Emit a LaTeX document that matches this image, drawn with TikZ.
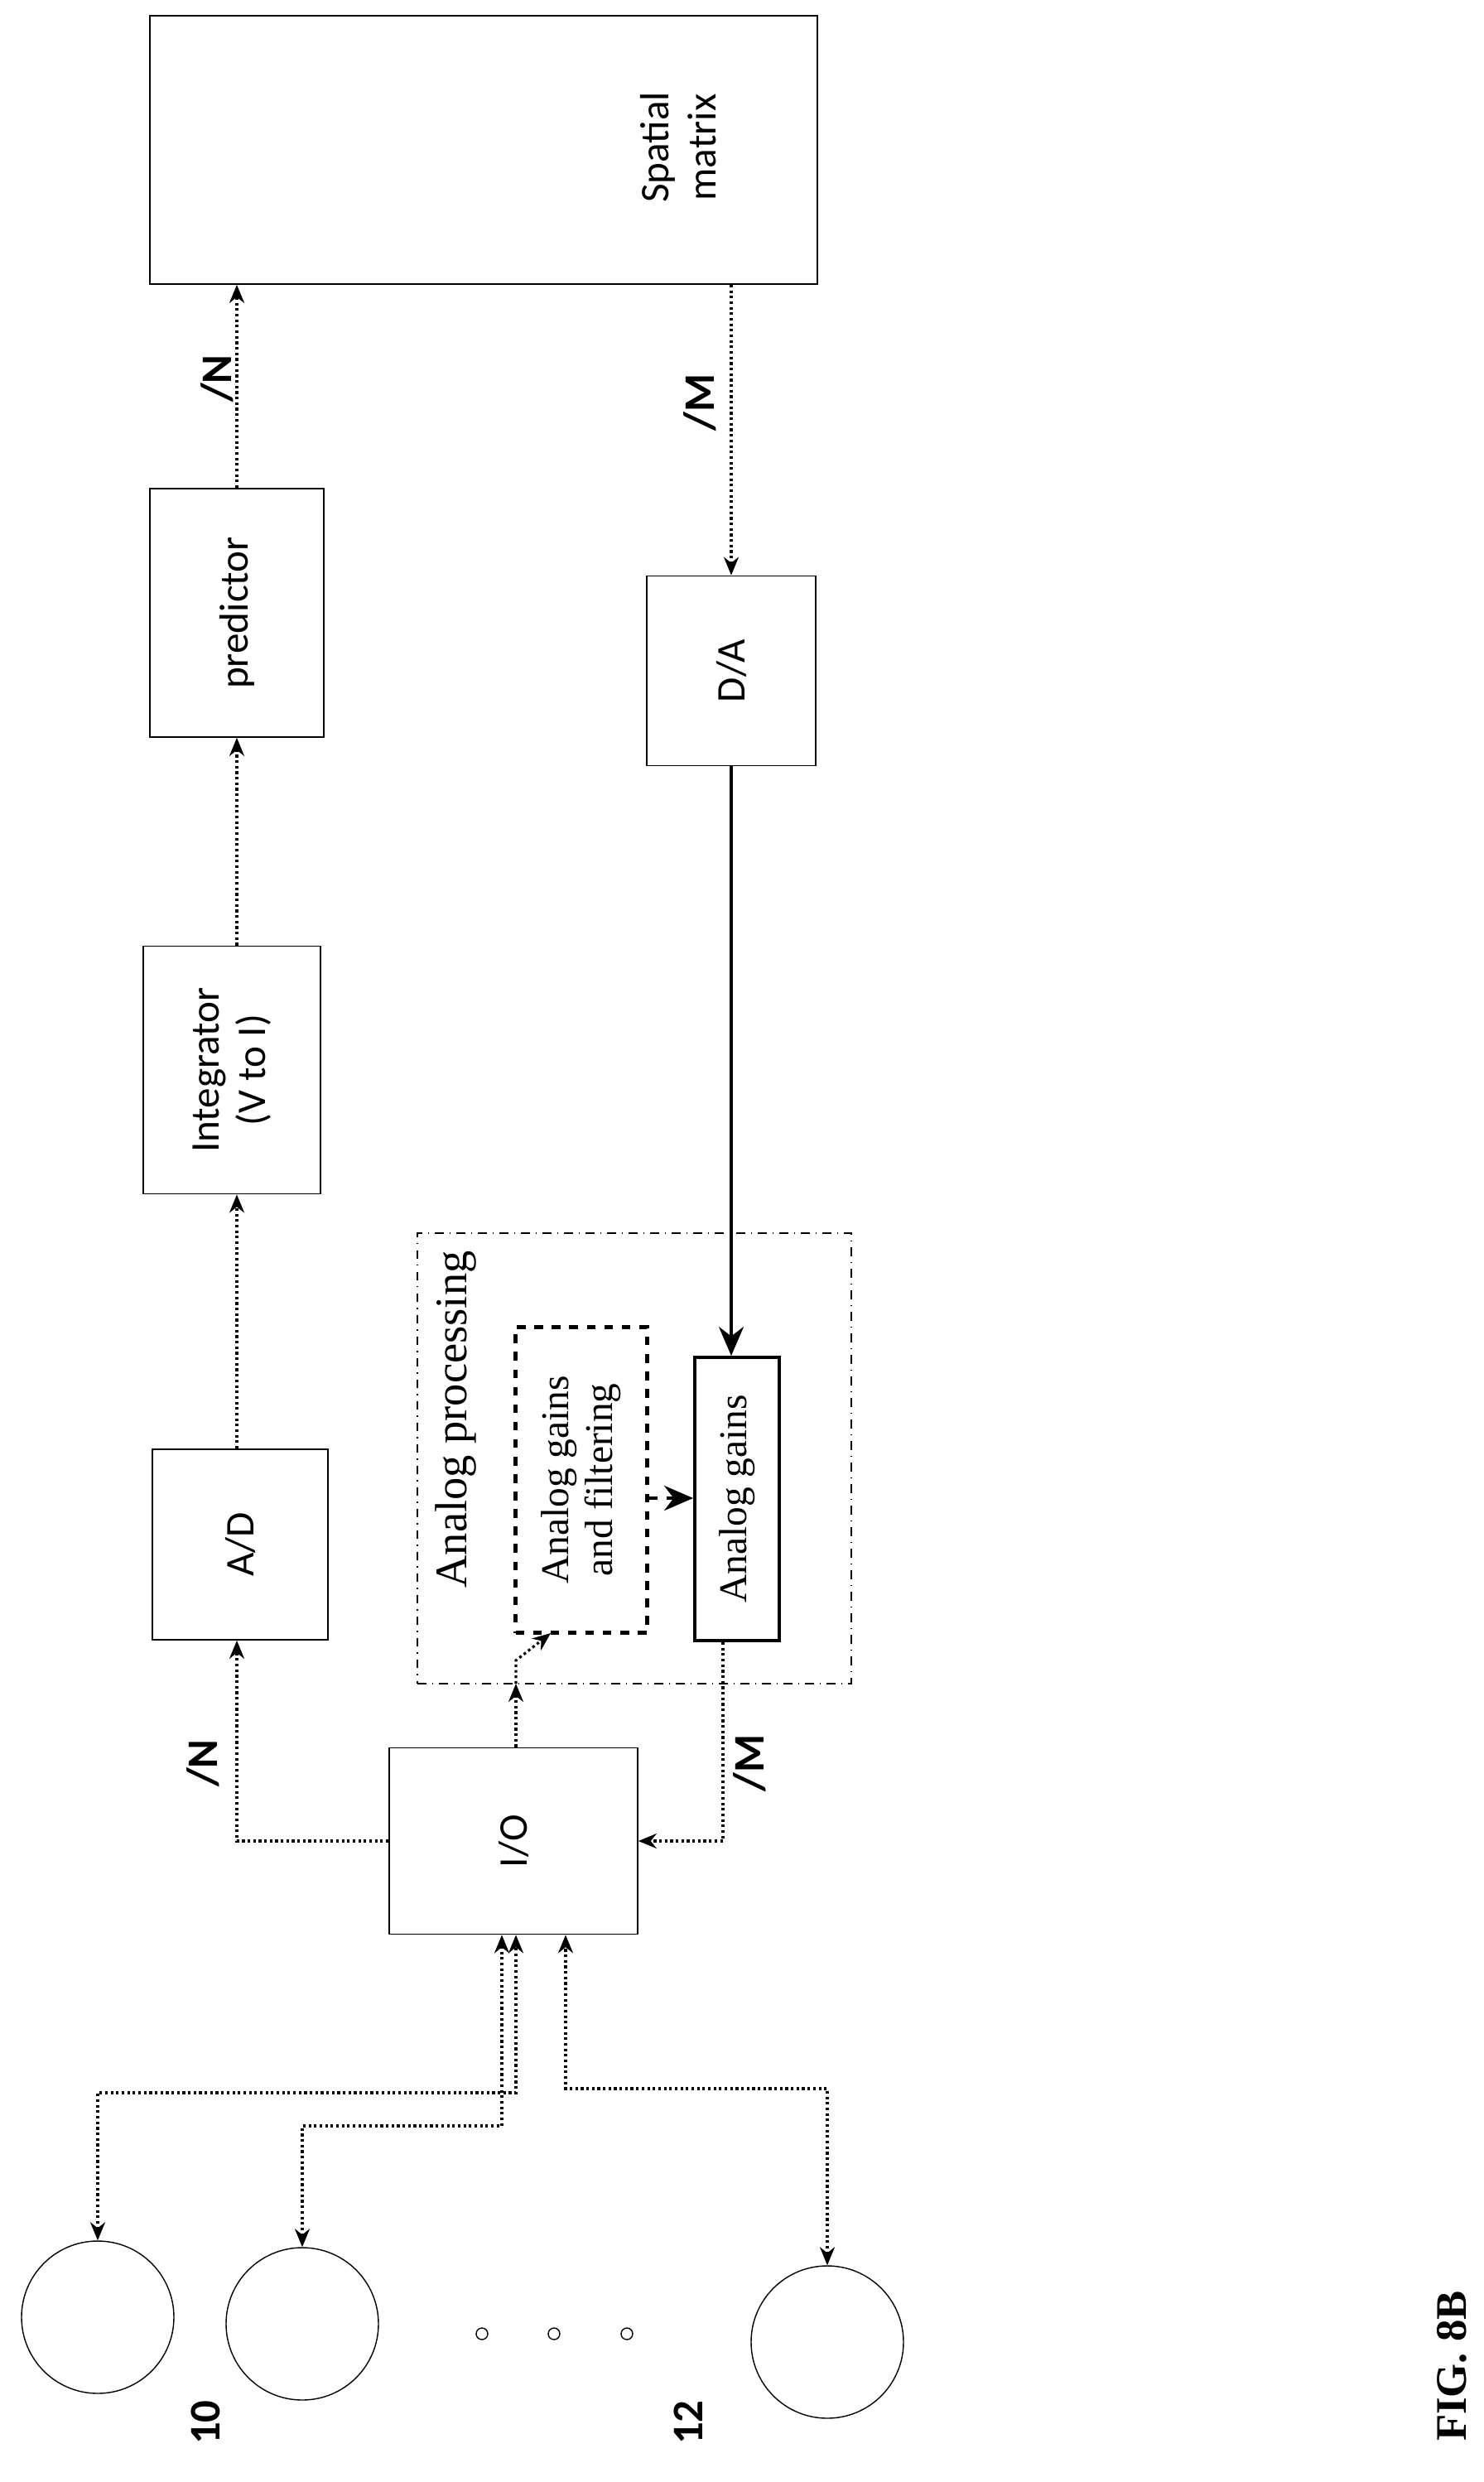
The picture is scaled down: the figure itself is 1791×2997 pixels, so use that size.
\documentclass[tikz,border=0pt]{standalone}
\usepackage{fontspec}
\setmainfont{Liberation Serif}
\newfontfamily\boxfont{Carlito}
\usetikzlibrary{arrows.meta,calc}
\begin{document}
\begin{tikzpicture}[x=0.1mm,y=-0.1mm,
    blk/.style={draw,line width=0.5pt,inner sep=0pt},
    lbl/.style={rotate=90,font=\boxfont\fontsize{14}{16}\selectfont,align=center},
    sig/.style={densely dotted,line width=0.9pt,-{Stealth[length=2.2mm,width=1.8mm]}},
    bus/.style={font=\boxfont\bfseries\fontsize{15}{17}\selectfont,rotate=90}]
    \useasboundingbox (0,0) rectangle (1791,2997);

    % Digital chain
    \node[blk,minimum width=80.6mm,minimum height=32.4mm] (spat) at (584,181) {};
    \node[lbl] (spatt) at (819,178) {Spatial\\matrix};
    \node[blk,minimum width=21mm,minimum height=30mm] (pred) at (286,740) {};
    \node[lbl] (predt) at (pred) {predictor};
    \node[blk,minimum width=21.4mm,minimum height=29.9mm] (integ) at (280,1292) {};
    \node[lbl] (integt) at (integ) {Integrator\\(V to I)};
    \node[blk,minimum width=21.2mm,minimum height=23mm] (ad) at (290,1865) {};
    \node[lbl] (adt) at (ad) {A/D};
    \node[blk,minimum width=20.4mm,minimum height=22.9mm] (da) at (883,810) {};
    \node[lbl] (dat) at (da) {D/A};
    \node[blk,minimum width=30mm,minimum height=22.5mm] (io) at (620,2223) {};
    \node[lbl] (iot) at (io) {I/O};

    % Analog processing
    \node[draw,dash dot,line width=0.6pt,minimum width=52.4mm,minimum height=54.4mm] (proc) at (766,1761) {};
    \node[rotate=90,font=\fontsize{15.5}{17}\selectfont] (proct) at (550,1714) {Analog processing};
    \node[draw,dashed,line width=1.3pt,minimum width=15.9mm,minimum height=36.9mm] (filt) at (702,1787) {};
    \node[rotate=90,align=center,font=\fontsize{13.5}{15}\selectfont] (filtt) at (filt) {Analog gains\\and filtering};
    \node[draw,line width=1.1pt,minimum width=10.2mm,minimum height=34.2mm] (gain) at (890,1810) {};
    \node[rotate=90,font=\fontsize{13.5}{15}\selectfont] (gaint) at (gain) {Analog gains};

    % Electrodes
    \node[draw,circle,minimum size=18.4mm,inner sep=0pt] (e1) at (118,2798) {};
    \node[draw,circle,minimum size=18.4mm,inner sep=0pt] (e2) at (365,2806) {};
    \node[draw,circle,minimum size=18.4mm,inner sep=0pt] (e3) at (999,2828) {};
    \foreach \x/\n in {582/a,669/b,757/c}
        \node[draw,circle,minimum size=1.4mm,inner sep=0pt] (dot\n) at (\x,2818) {};
    \node[bus] (n10) at (248,2925) {10};
    \node[bus] (n12) at (831,2925) {12};

    % Connectors
    \draw[sig] (pred.north) -- (pred.north |- spat.south);
    \draw[sig] (integ.north -| pred.north) -- (pred.south);
    \draw[sig] (ad.north -| pred.north) -- (integ.south -| pred.north);
    \draw[sig] (io.west) -| (ad.south -| pred.north);
    \draw[sig] (spat.south -| da.north) -- (da.north);
    \draw[line width=0.9pt,-{Stealth[length=3.5mm,width=3mm]}] (da.south) -- (da.south |- gain.north);
    \draw[dashed,line width=1.2pt,-{Stealth[length=3.5mm,width=3mm]}] (filt.east |- 0,1809) -- (gain.west |- 0,1809);
    \coordinate (pin) at (623,2033);
    \coordinate (fin) at (665,1972);
    \draw[sig] (io.north -| pin) -- (pin);
    \draw[sig] (pin) -- (pin |- 0,2005) -- (fin);
    \draw[sig] (gain.south -| 873,0) |- (io.east);

    \draw[sig,{Stealth[length=2.2mm,width=1.8mm]}-{Stealth[length=2.2mm,width=1.8mm]}] (e1.north) |- (623,2527) -- (io.south -| 623,0);
    \draw[sig,{Stealth[length=2.2mm,width=1.8mm]}-{Stealth[length=2.2mm,width=1.8mm]}] (e2.north) |- (606,2567) -- (io.south -| 606,0);
    \draw[sig,{Stealth[length=2.2mm,width=1.8mm]}-{Stealth[length=2.2mm,width=1.8mm]}] (e3.north) |- (683,2522) -- (io.south -| 683,0);

    % Bus widths
    \node[bus] (nbot) at (245,2129) {/N};
    \node[bus] (ntop) at (262,457) {/N};
    \node[bus] (mbot) at (905,2129) {/M};
    \node[bus] (mtop) at (845,486) {/M};

    \node[rotate=90,font=\bfseries\fontsize{15}{17}\selectfont] (fig) at (1753,2857) {FIG. 8B};
\end{tikzpicture}
\end{document}
